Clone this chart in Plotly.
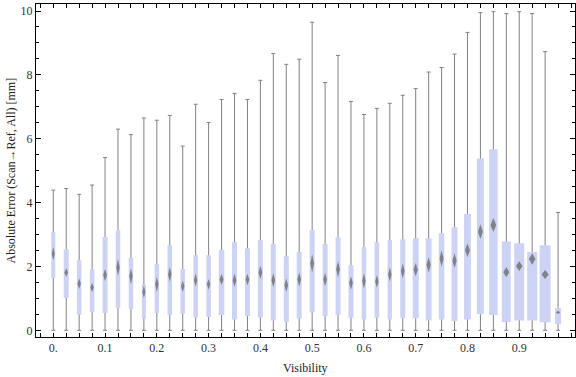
import plotly.graph_objects as go

# Visibility bins (category centres)
visibility = [0.0, 0.025, 0.05, 0.075, 0.1, 0.125, 0.15, 0.175, 0.2, 0.225,
              0.25, 0.275, 0.3, 0.325, 0.35, 0.375, 0.4, 0.425, 0.45, 0.475,
              0.5, 0.525, 0.55, 0.575, 0.6, 0.625, 0.65, 0.675, 0.7, 0.725,
              0.75, 0.775, 0.8, 0.825, 0.85, 0.875, 0.9, 0.925, 0.95, 0.975]

whisker_min = [0.0] * 40
whisker_max = [4.39, 4.44, 4.26, 4.55, 5.41, 6.30, 6.13, 6.65, 6.58, 6.73,
               5.77, 7.08, 6.51, 7.23, 7.42, 7.23, 7.83, 8.67, 8.33, 8.49,
               9.65, 7.76, 8.61, 7.17, 6.76, 6.95, 7.11, 7.36, 7.57, 8.09,
               8.23, 8.65, 9.33, 9.95, 9.98, 9.92, 9.98, 9.92, 8.73, 3.69]
q1 = [1.64, 1.01, 0.49, 0.57, 0.54, 0.70, 0.67, 0.36, 0.54, 0.48,
      0.51, 0.39, 0.42, 0.48, 0.34, 0.45, 0.40, 0.31, 0.26, 0.37,
      0.56, 0.45, 0.49, 0.39, 0.34, 0.39, 0.34, 0.38, 0.38, 0.31,
      0.34, 0.29, 0.34, 0.51, 0.48, 0.26, 0.31, 0.31, 0.25, 0.20]
q3 = [3.08, 2.54, 2.19, 1.91, 2.92, 3.13, 2.27, 1.44, 2.07, 2.66,
      1.92, 2.35, 2.35, 2.52, 2.76, 2.57, 2.83, 2.70, 2.32, 2.45,
      3.13, 2.70, 2.91, 2.04, 2.62, 2.76, 2.83, 2.85, 2.88, 2.88,
      3.04, 3.23, 3.64, 5.38, 5.67, 2.78, 2.73, 2.45, 2.66, 0.69]
mean = [2.40, 1.81, 1.46, 1.34, 1.73, 1.97, 1.69, 1.20, 1.44, 1.75,
        1.38, 1.57, 1.44, 1.59, 1.57, 1.59, 1.81, 1.57, 1.41, 1.59,
        2.09, 1.59, 1.91, 1.48, 1.55, 1.53, 1.75, 1.86, 1.90, 2.05,
        2.25, 2.18, 2.51, 3.09, 3.30, 1.82, 2.01, 2.23, 1.75, 0.56]
mean_ci = [0.21, 0.13, 0.17, 0.15, 0.19, 0.26, 0.25, 0.20, 0.23, 0.23,
           0.18, 0.21, 0.17, 0.17, 0.21, 0.18, 0.21, 0.22, 0.21, 0.22,
           0.29, 0.21, 0.25, 0.21, 0.24, 0.20, 0.22, 0.24, 0.21, 0.24,
           0.26, 0.23, 0.22, 0.23, 0.22, 0.16, 0.15, 0.18, 0.14, 0.05]

x_tickvals = [0.0, 0.1, 0.2, 0.3, 0.4, 0.5, 0.6, 0.7, 0.8, 0.9]
x_ticktext = ["0.", "0.1", "0.2", "0.3", "0.4", "0.5", "0.6", "0.7", "0.8", "0.9"]

# style: box widths in pixels
box_width_px = [4, 5, 4.5, 4.5, 5, 4.5, 4.5, 4, 4.5, 4.5,
                4.5, 4.5, 4.5, 5.5, 5, 5, 5, 5, 5, 5,
                5, 5, 5, 5, 4.5, 4.5, 4.5, 5, 6, 6,
                5.5, 6, 7, 7, 8.5, 9, 10, 10, 11, 6]

X_RANGE = [-0.0334, 1.0077]
Y_RANGE = [-0.21, 10.22]
W, H = 576, 377
ML, MR, MT, MB = 36, 1, 4, 40
px_per_x = (W - ML - MR) / (X_RANGE[1] - X_RANGE[0])

fig = go.Figure()

# whiskers with caps
fig.add_trace(go.Scatter(
    x=visibility, y=whisker_min, mode="markers",
    marker=dict(size=1, color="rgba(0,0,0,0)"),
    error_y=dict(type="data", symmetric=False,
                 array=[hi - lo for hi, lo in zip(whisker_max, whisker_min)],
                 arrayminus=[0] * len(visibility),
                 color="#808080", thickness=1, width=2),
    hoverinfo="skip"))

# boxes (filled polygons so they sit above the whiskers)
bx, by = [], []
for xv, a, b, w in zip(visibility, q1, q3, box_width_px):
    hw = (w / 2) / px_per_x
    bx += [xv - hw, xv + hw, xv + hw, xv - hw, xv - hw, None]
    by += [a, a, b, b, a, None]
fig.add_trace(go.Scatter(x=bx, y=by, mode="lines", fill="toself",
                         fillcolor="#CCD3F5", line=dict(width=0, color="#CCD3F5"),
                         hoverinfo="skip"))

# mean diamonds
dx, dy = [], []
for xv, m, ci, w in zip(visibility, mean, mean_ci, box_width_px):
    hw = (0.28 * w + 0.5) / px_per_x
    dx += [xv - hw, xv, xv + hw, xv, xv - hw, None]
    dy += [m, m + ci, m, m - ci, m, None]
fig.add_trace(go.Scatter(x=dx, y=dy, mode="lines", fill="toself",
                         fillcolor="rgba(110,110,110,0.8)",
                         line=dict(width=0, color="rgba(110,110,110,0.5)"),
                         hoverinfo="skip"))

font_family = "Liberation Serif"
fig.update_layout(
    width=W, height=H,
    margin=dict(l=ML, r=MR, t=MT, b=MB),
    plot_bgcolor="white", paper_bgcolor="white",
    showlegend=False,
    font=dict(family=font_family, size=12, color="#333333"),
    xaxis=dict(range=X_RANGE, showgrid=False, zeroline=False,
               showline=True, linecolor="black", linewidth=1, mirror="allticks",
               ticks="inside", ticklen=4, tickcolor="black", tickwidth=1,
               tickmode="array", tickvals=x_tickvals, ticktext=x_ticktext,
               minor=dict(tickmode="linear", tick0=0, dtick=0.025, ticks="inside",
                          ticklen=4, tickcolor="black", tickwidth=1)),
    yaxis=dict(range=Y_RANGE, showgrid=False, zeroline=False,
               showline=True, linecolor="black", linewidth=1, mirror="allticks",
               ticks="inside", ticklen=5, tickcolor="black", tickwidth=1,
               tickmode="linear", tick0=0, dtick=2,
               minor=dict(tickmode="linear", tick0=0, dtick=0.5, ticks="inside",
                          ticklen=3, tickcolor="black", tickwidth=1)),
    annotations=[
        dict(text="Visibility", xref="paper", yref="paper", x=0.5, y=0,
             xanchor="center", yanchor="middle", yshift=-31, showarrow=False,
             font=dict(family=font_family, size=12, color="#222222")),
        dict(text="Absolute Error (Scan\u2192Ref, All) [mm]", xref="paper", yref="paper",
             x=0, y=0.5, xanchor="center", yanchor="middle", xshift=-26,
             textangle=-90, showarrow=False,
             font=dict(family=font_family, size=12, color="#222222")),
    ],
)

fig.write_html("out.html", config={"displayModeBar": False},
               post_script="document.body.style.margin='0';document.body.style.padding='0';")
